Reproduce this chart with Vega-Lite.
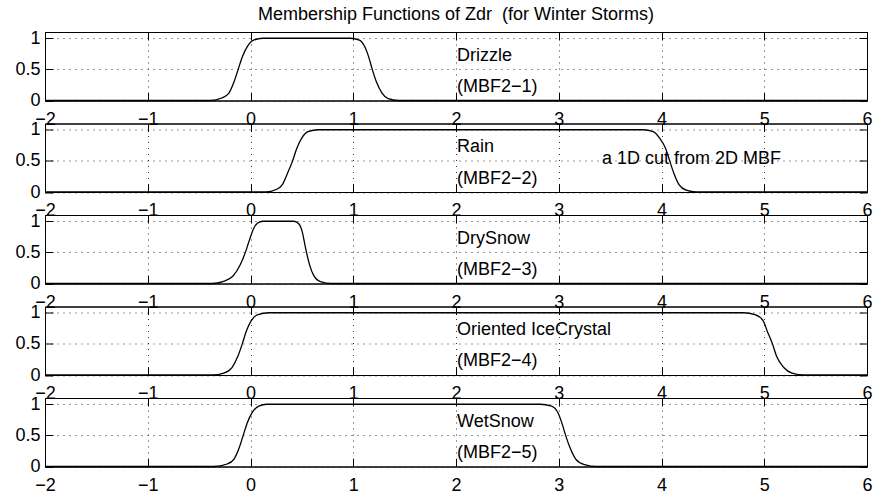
{
  "$schema": "https://vega.github.io/schema/vega-lite/v6.json",
  "background": "#ffffff",
  "padding": {"left": 5, "top": 5, "right": 5, "bottom": 5},
  "bounds": "flush",
  "spacing": 22.5,
  "config": {
    "font": "Liberation Sans",
    "view": {"stroke": "#000", "strokeWidth": 1},
    "axis": {
      "domainColor": "#000",
      "tickColor": "#000",
      "labelColor": "#000",
      "labelFont": "Liberation Sans",
      "labelFontSize": 18,
      "labelOverlap": false,
      "labelFlush": false,
      "gridColor": "#333",
      "gridDash": [1, 5],
      "gridWidth": 1,
      "tickSize": -8,
      "title": null
    },
    "title": {"font": "Liberation Sans", "fontSize": 18, "fontWeight": "normal", "color": "#000"}
  },
  "datasets": {
    "curves": [
      {"p": 1, "x": -2, "y": 0}, {"p": 1, "x": -0.39, "y": 0}, {"p": 1, "x": -0.28, "y": 0.04}, {"p": 1, "x": -0.21, "y": 0.12}, {"p": 1, "x": -0.16, "y": 0.3}, {"p": 1, "x": -0.12, "y": 0.5}, {"p": 1, "x": -0.08, "y": 0.7}, {"p": 1, "x": -0.03, "y": 0.87}, {"p": 1, "x": 0.03, "y": 0.97}, {"p": 1, "x": 0.12, "y": 1}, {"p": 1, "x": 0.97, "y": 1}, {"p": 1, "x": 1.06, "y": 0.97}, {"p": 1, "x": 1.11, "y": 0.87}, {"p": 1, "x": 1.15, "y": 0.7}, {"p": 1, "x": 1.185, "y": 0.5}, {"p": 1, "x": 1.225, "y": 0.3}, {"p": 1, "x": 1.28, "y": 0.12}, {"p": 1, "x": 1.34, "y": 0.03}, {"p": 1, "x": 1.44, "y": 0}, {"p": 1, "x": 6, "y": 0},
      {"p": 2, "x": -2, "y": 0}, {"p": 2, "x": 0.15, "y": 0}, {"p": 2, "x": 0.25, "y": 0.04}, {"p": 2, "x": 0.31, "y": 0.12}, {"p": 2, "x": 0.36, "y": 0.3}, {"p": 2, "x": 0.41, "y": 0.5}, {"p": 2, "x": 0.45, "y": 0.7}, {"p": 2, "x": 0.5, "y": 0.87}, {"p": 2, "x": 0.56, "y": 0.97}, {"p": 2, "x": 0.66, "y": 1}, {"p": 2, "x": 3.82, "y": 1}, {"p": 2, "x": 3.92, "y": 0.97}, {"p": 2, "x": 3.98, "y": 0.87}, {"p": 2, "x": 4.04, "y": 0.7}, {"p": 2, "x": 4.08, "y": 0.5}, {"p": 2, "x": 4.12, "y": 0.3}, {"p": 2, "x": 4.17, "y": 0.12}, {"p": 2, "x": 4.24, "y": 0.03}, {"p": 2, "x": 4.34, "y": 0}, {"p": 2, "x": 6, "y": 0},
      {"p": 3, "x": -2, "y": 0}, {"p": 3, "x": -0.37, "y": 0}, {"p": 3, "x": -0.27, "y": 0.03}, {"p": 3, "x": -0.17, "y": 0.12}, {"p": 3, "x": -0.1, "y": 0.3}, {"p": 3, "x": -0.05, "y": 0.5}, {"p": 3, "x": -0.01, "y": 0.7}, {"p": 3, "x": 0.03, "y": 0.88}, {"p": 3, "x": 0.07, "y": 0.97}, {"p": 3, "x": 0.12, "y": 1}, {"p": 3, "x": 0.42, "y": 1}, {"p": 3, "x": 0.47, "y": 0.96}, {"p": 3, "x": 0.505, "y": 0.82}, {"p": 3, "x": 0.525, "y": 0.66}, {"p": 3, "x": 0.545, "y": 0.5}, {"p": 3, "x": 0.575, "y": 0.3}, {"p": 3, "x": 0.615, "y": 0.13}, {"p": 3, "x": 0.68, "y": 0.03}, {"p": 3, "x": 0.79, "y": 0}, {"p": 3, "x": 6, "y": 0},
      {"p": 4, "x": -2, "y": 0}, {"p": 4, "x": -0.37, "y": 0}, {"p": 4, "x": -0.26, "y": 0.03}, {"p": 4, "x": -0.18, "y": 0.12}, {"p": 4, "x": -0.123, "y": 0.3}, {"p": 4, "x": -0.08, "y": 0.5}, {"p": 4, "x": -0.042, "y": 0.7}, {"p": 4, "x": 0.006, "y": 0.87}, {"p": 4, "x": 0.072, "y": 0.97}, {"p": 4, "x": 0.18, "y": 1}, {"p": 4, "x": 4.8, "y": 1}, {"p": 4, "x": 4.91, "y": 0.97}, {"p": 4, "x": 4.99, "y": 0.87}, {"p": 4, "x": 5.03, "y": 0.7}, {"p": 4, "x": 5.08, "y": 0.5}, {"p": 4, "x": 5.12, "y": 0.3}, {"p": 4, "x": 5.19, "y": 0.12}, {"p": 4, "x": 5.27, "y": 0.03}, {"p": 4, "x": 5.39, "y": 0}, {"p": 4, "x": 6, "y": 0},
      {"p": 5, "x": -2, "y": 0}, {"p": 5, "x": -0.357, "y": 0}, {"p": 5, "x": -0.227, "y": 0.04}, {"p": 5, "x": -0.16, "y": 0.12}, {"p": 5, "x": -0.11, "y": 0.3}, {"p": 5, "x": -0.071, "y": 0.5}, {"p": 5, "x": -0.032, "y": 0.7}, {"p": 5, "x": 0.017, "y": 0.87}, {"p": 5, "x": 0.08, "y": 0.97}, {"p": 5, "x": 0.16, "y": 1}, {"p": 5, "x": 2.82, "y": 1}, {"p": 5, "x": 2.93, "y": 0.97}, {"p": 5, "x": 2.99, "y": 0.87}, {"p": 5, "x": 3.03, "y": 0.7}, {"p": 5, "x": 3.067, "y": 0.5}, {"p": 5, "x": 3.11, "y": 0.3}, {"p": 5, "x": 3.165, "y": 0.12}, {"p": 5, "x": 3.25, "y": 0.03}, {"p": 5, "x": 3.37, "y": 0}, {"p": 5, "x": 6, "y": 0}
    ],
    "labels": [
      {"p": 1, "x": 2.01, "y": 0.72, "t": "Drizzle"},
      {"p": 1, "x": 2.01, "y": 0.22, "t": "(MBF2−1)"},
      {"p": 2, "x": 2.01, "y": 0.72, "t": "Rain"},
      {"p": 2, "x": 2.01, "y": 0.21, "t": "(MBF2−2)"},
      {"p": 2, "x": 3.42, "y": 0.53, "t": "a 1D cut from 2D MBF"},
      {"p": 3, "x": 2.01, "y": 0.72, "t": "DrySnow"},
      {"p": 3, "x": 2.01, "y": 0.22, "t": "(MBF2−3)"},
      {"p": 4, "x": 2.01, "y": 0.72, "t": "Oriented IceCrystal"},
      {"p": 4, "x": 2.01, "y": 0.23, "t": "(MBF2−4)"},
      {"p": 5, "x": 2.01, "y": 0.72, "t": "WetSnow"},
      {"p": 5, "x": 2.01, "y": 0.21, "t": "(MBF2−5)"}
    ]
  },
  "vconcat": [
    {
      "width": 822, "height": 68.5,
      "title": {"text": "Membership Functions of Zdr \u00a0(for Winter Storms)", "anchor": "middle", "frame": "group", "offset": 5},
      "resolve": {"axis": {"x": "independent", "y": "independent"}},
      "layer": [
        {"data": {"name": "curves"}, "transform": [{"filter": "datum.p == 1"}],
         "mark": {"type": "line", "color": "#000", "strokeWidth": 1.3, "interpolate": "monotone"},
         "encoding": {
           "x": {"field": "x", "type": "quantitative", "scale": {"domain": [-2, 6], "nice": false, "zero": false}, "axis": {"orient": "bottom", "values": [-2, -1, 0, 1, 2, 3, 4, 5, 6], "format": "d", "grid": true, "labelPadding": 17.5}},
           "y": {"field": "y", "type": "quantitative", "scale": {"domain": [0, 1.1], "nice": false}, "axis": {"orient": "left", "values": [0, 0.5, 1], "format": "~g", "grid": true, "labelPadding": 13, "minExtent": 39, "maxExtent": 39}}}},
        {"data": {"name": "labels"}, "transform": [{"filter": "datum.p == 1"}],
         "mark": {"type": "text", "align": "left", "baseline": "middle", "fontSize": 18, "color": "#000", "font": "Liberation Sans"},
         "encoding": {
           "x": {"field": "x", "type": "quantitative", "scale": {"domain": [-2, 6], "nice": false, "zero": false}, "axis": {"orient": "top", "values": [-2, -1, 0, 1, 2, 3, 4, 5, 6], "labels": false, "grid": false, "minExtent": 0, "maxExtent": 0}},
           "y": {"field": "y", "type": "quantitative", "scale": {"domain": [0, 1.1], "nice": false}, "axis": {"orient": "right", "values": [0, 0.5, 1], "labels": false, "grid": false, "minExtent": 0, "maxExtent": 0}},
           "text": {"field": "t"}}}
      ]
    },
    {
      "width": 822, "height": 68.5,
      "resolve": {"axis": {"x": "independent", "y": "independent"}},
      "layer": [
        {"data": {"name": "curves"}, "transform": [{"filter": "datum.p == 2"}],
         "mark": {"type": "line", "color": "#000", "strokeWidth": 1.3, "interpolate": "monotone"},
         "encoding": {
           "x": {"field": "x", "type": "quantitative", "scale": {"domain": [-2, 6], "nice": false, "zero": false}, "axis": {"orient": "bottom", "values": [-2, -1, 0, 1, 2, 3, 4, 5, 6], "format": "d", "grid": true, "labelPadding": 17.5}},
           "y": {"field": "y", "type": "quantitative", "scale": {"domain": [0, 1.1], "nice": false}, "axis": {"orient": "left", "values": [0, 0.5, 1], "format": "~g", "grid": true, "labelPadding": 13, "minExtent": 39, "maxExtent": 39}}}},
        {"data": {"name": "labels"}, "transform": [{"filter": "datum.p == 2"}],
         "mark": {"type": "text", "align": "left", "baseline": "middle", "fontSize": 18, "color": "#000", "font": "Liberation Sans"},
         "encoding": {
           "x": {"field": "x", "type": "quantitative", "scale": {"domain": [-2, 6], "nice": false, "zero": false}, "axis": {"orient": "top", "values": [-2, -1, 0, 1, 2, 3, 4, 5, 6], "labels": false, "grid": false, "minExtent": 0, "maxExtent": 0}},
           "y": {"field": "y", "type": "quantitative", "scale": {"domain": [0, 1.1], "nice": false}, "axis": {"orient": "right", "values": [0, 0.5, 1], "labels": false, "grid": false, "minExtent": 0, "maxExtent": 0}},
           "text": {"field": "t"}}}
      ]
    },
    {
      "width": 822, "height": 68.5,
      "resolve": {"axis": {"x": "independent", "y": "independent"}},
      "layer": [
        {"data": {"name": "curves"}, "transform": [{"filter": "datum.p == 3"}],
         "mark": {"type": "line", "color": "#000", "strokeWidth": 1.3, "interpolate": "monotone"},
         "encoding": {
           "x": {"field": "x", "type": "quantitative", "scale": {"domain": [-2, 6], "nice": false, "zero": false}, "axis": {"orient": "bottom", "values": [-2, -1, 0, 1, 2, 3, 4, 5, 6], "format": "d", "grid": true, "labelPadding": 17.5}},
           "y": {"field": "y", "type": "quantitative", "scale": {"domain": [0, 1.1], "nice": false}, "axis": {"orient": "left", "values": [0, 0.5, 1], "format": "~g", "grid": true, "labelPadding": 13, "minExtent": 39, "maxExtent": 39}}}},
        {"data": {"name": "labels"}, "transform": [{"filter": "datum.p == 3"}],
         "mark": {"type": "text", "align": "left", "baseline": "middle", "fontSize": 18, "color": "#000", "font": "Liberation Sans"},
         "encoding": {
           "x": {"field": "x", "type": "quantitative", "scale": {"domain": [-2, 6], "nice": false, "zero": false}, "axis": {"orient": "top", "values": [-2, -1, 0, 1, 2, 3, 4, 5, 6], "labels": false, "grid": false, "minExtent": 0, "maxExtent": 0}},
           "y": {"field": "y", "type": "quantitative", "scale": {"domain": [0, 1.1], "nice": false}, "axis": {"orient": "right", "values": [0, 0.5, 1], "labels": false, "grid": false, "minExtent": 0, "maxExtent": 0}},
           "text": {"field": "t"}}}
      ]
    },
    {
      "width": 822, "height": 68.5,
      "resolve": {"axis": {"x": "independent", "y": "independent"}},
      "layer": [
        {"data": {"name": "curves"}, "transform": [{"filter": "datum.p == 4"}],
         "mark": {"type": "line", "color": "#000", "strokeWidth": 1.3, "interpolate": "monotone"},
         "encoding": {
           "x": {"field": "x", "type": "quantitative", "scale": {"domain": [-2, 6], "nice": false, "zero": false}, "axis": {"orient": "bottom", "values": [-2, -1, 0, 1, 2, 3, 4, 5, 6], "format": "d", "grid": true, "labelPadding": 17.5}},
           "y": {"field": "y", "type": "quantitative", "scale": {"domain": [0, 1.1], "nice": false}, "axis": {"orient": "left", "values": [0, 0.5, 1], "format": "~g", "grid": true, "labelPadding": 13, "minExtent": 39, "maxExtent": 39}}}},
        {"data": {"name": "labels"}, "transform": [{"filter": "datum.p == 4"}],
         "mark": {"type": "text", "align": "left", "baseline": "middle", "fontSize": 18, "color": "#000", "font": "Liberation Sans"},
         "encoding": {
           "x": {"field": "x", "type": "quantitative", "scale": {"domain": [-2, 6], "nice": false, "zero": false}, "axis": {"orient": "top", "values": [-2, -1, 0, 1, 2, 3, 4, 5, 6], "labels": false, "grid": false, "minExtent": 0, "maxExtent": 0}},
           "y": {"field": "y", "type": "quantitative", "scale": {"domain": [0, 1.1], "nice": false}, "axis": {"orient": "right", "values": [0, 0.5, 1], "labels": false, "grid": false, "minExtent": 0, "maxExtent": 0}},
           "text": {"field": "t"}}}
      ]
    },
    {
      "width": 822, "height": 68.5,
      "resolve": {"axis": {"x": "independent", "y": "independent"}},
      "layer": [
        {"data": {"name": "curves"}, "transform": [{"filter": "datum.p == 5"}],
         "mark": {"type": "line", "color": "#000", "strokeWidth": 1.3, "interpolate": "monotone"},
         "encoding": {
           "x": {"field": "x", "type": "quantitative", "scale": {"domain": [-2, 6], "nice": false, "zero": false}, "axis": {"orient": "bottom", "values": [-2, -1, 0, 1, 2, 3, 4, 5, 6], "format": "d", "grid": true, "labelPadding": 17.5}},
           "y": {"field": "y", "type": "quantitative", "scale": {"domain": [0, 1.1], "nice": false}, "axis": {"orient": "left", "values": [0, 0.5, 1], "format": "~g", "grid": true, "labelPadding": 13, "minExtent": 39, "maxExtent": 39}}}},
        {"data": {"name": "labels"}, "transform": [{"filter": "datum.p == 5"}],
         "mark": {"type": "text", "align": "left", "baseline": "middle", "fontSize": 18, "color": "#000", "font": "Liberation Sans"},
         "encoding": {
           "x": {"field": "x", "type": "quantitative", "scale": {"domain": [-2, 6], "nice": false, "zero": false}, "axis": {"orient": "top", "values": [-2, -1, 0, 1, 2, 3, 4, 5, 6], "labels": false, "grid": false, "minExtent": 0, "maxExtent": 0}},
           "y": {"field": "y", "type": "quantitative", "scale": {"domain": [0, 1.1], "nice": false}, "axis": {"orient": "right", "values": [0, 0.5, 1], "labels": false, "grid": false, "minExtent": 0, "maxExtent": 0}},
           "text": {"field": "t"}}}
      ]
    }
  ]
}
